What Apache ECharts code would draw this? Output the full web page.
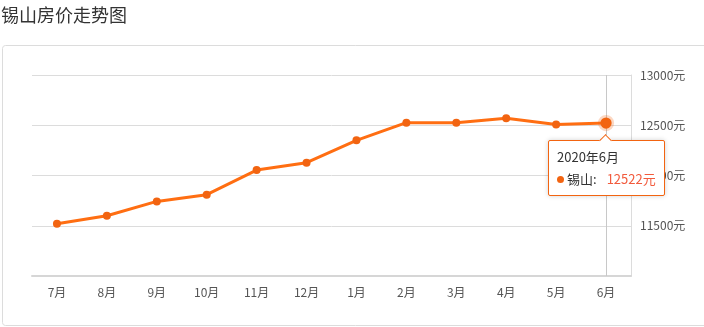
<!DOCTYPE html>
<html>
<head>
<meta charset="utf-8">
<script src="https://cdn.jsdelivr.net/npm/echarts@6/dist/echarts.min.js"></script>
<style>
html,body{margin:0;padding:0;background:#fff;}
#chart{width:704px;height:327px;}
</style>
</head>
<body>
<div id="chart"></div>
<script>
var titleText = '锡山房价走势图';
var seriesName = '锡山';
var months = ['7月','8月','9月','10月','11月','12月','1月','2月','3月','4月','5月','6月'];
var fullDates = ['2019年7月','2019年8月','2019年9月','2019年10月','2019年11月','2019年12月','2020年1月','2020年2月','2020年3月','2020年4月','2020年5月','2020年6月'];
var prices = [11520, 11600, 11742, 11809, 12054, 12127, 12350, 12526, 12526, 12570, 12507, 12522];
var yMin = 11000, yMax = 13000, yStep = 500;
var unit = '元';
var activeIndex = 11;

var ORANGE = '#f26411';
var FONT = '"Noto Sans CJK SC","Noto Sans",sans-serif';

var chart = echarts.init(document.getElementById('chart'));
chart.setOption({
  animation: false,
  textStyle: {fontFamily: FONT},
  title: {
    text: titleText, left: 1, top: 6, padding: 0,
    textStyle: {fontSize: 18, fontWeight: 'normal', color: '#333', fontFamily: FONT}
  },
  graphic: [{
    type: 'rect', silent: true, z: -1,
    shape: {x: 2.5, y: 45.5, width: 720, height: 280, r: 3},
    style: {fill: 'none', stroke: '#dcdcdc', lineWidth: 1}
  }],
  grid: {left: 32, right: 73, top: 75, bottom: 51},
  tooltip: {
    trigger: 'item',
    alwaysShowContent: true,
    transitionDuration: 0,
    backgroundColor: '#fff',
    borderColor: ORANGE,
    borderWidth: 1,
    padding: [5, 8],
    extraCssText: 'box-shadow:0 0 5px rgba(0,0,0,0.18);border-radius:2px;',
    textStyle: {fontSize: 13, color: '#333', fontFamily: FONT},
    position: function (point, params, dom, rect, size) {
      return [point[0] - size.contentSize[0] / 2, point[1] + 17];
    },
    formatter: function (p) {
      var arrow = '<div style="position:absolute;left:50%;top:-5px;margin-left:-5px;width:8px;height:8px;background:#fff;border-left:1px solid ' + ORANGE + ';border-top:1px solid ' + ORANGE + ';transform:rotate(45deg);"></div>';
      return arrow +
        '<div style="line-height:22px;">' + fullDates[p.dataIndex] + '</div>' +
        '<div style="line-height:22px;"><span style="display:inline-block;width:7px;height:7px;border-radius:50%;background:' + ORANGE + ';margin-right:3px;vertical-align:1px;"></span>' +
        seriesName + ':<span style="margin-left:10px;color:#f25b3d;">' + p.value + unit + '</span></div>';
    }
  },
  xAxis: {
    type: 'category',
    data: months,
    boundaryGap: true,
    axisLine: {lineStyle: {color: '#d6d6d6', width: 2}},
    axisTick: {alignWithLabel: true, length: 4, lineStyle: {color: '#d0d0d0'}},
    axisLabel: {color: '#555', fontSize: 12, margin: 10, fontFamily: FONT},
    axisPointer: {
      show: true, type: 'line', value: activeIndex, status: 'show', triggerTooltip: false,
      z: 1,
      lineStyle: {color: '#c8c8c8', width: 1, type: 'solid'},
      label: {show: false}
    }
  },
  yAxis: {
    type: 'value',
    position: 'right',
    min: yMin, max: yMax, interval: yStep,
    axisLine: {show: true, lineStyle: {color: '#dcdcdc'}},
    axisTick: {show: false},
    axisLabel: {
      color: '#555', fontSize: 12, margin: 9, fontFamily: FONT,
      showMinLabel: false,
      formatter: function (v) { return v + unit; }
    },
    splitLine: {lineStyle: {color: '#dcdcdc'}}
  },
  series: [{
    name: seriesName,
    type: 'line',
    z: 3,
    data: prices,
    symbol: 'circle',
    symbolSize: 8,
    lineStyle: {color: ORANGE, width: 3},
    itemStyle: {color: ORANGE},
    emphasis: {
      scale: 1.4,
      itemStyle: {color: ORANGE, borderColor: 'rgba(242,100,17,0.25)', borderWidth: 5}
    }
  }]
});

chart.dispatchAction({type: 'showTip', seriesIndex: 0, dataIndex: activeIndex});
chart.dispatchAction({type: 'highlight', seriesIndex: 0, dataIndex: activeIndex});
</script>
</body>
</html>
